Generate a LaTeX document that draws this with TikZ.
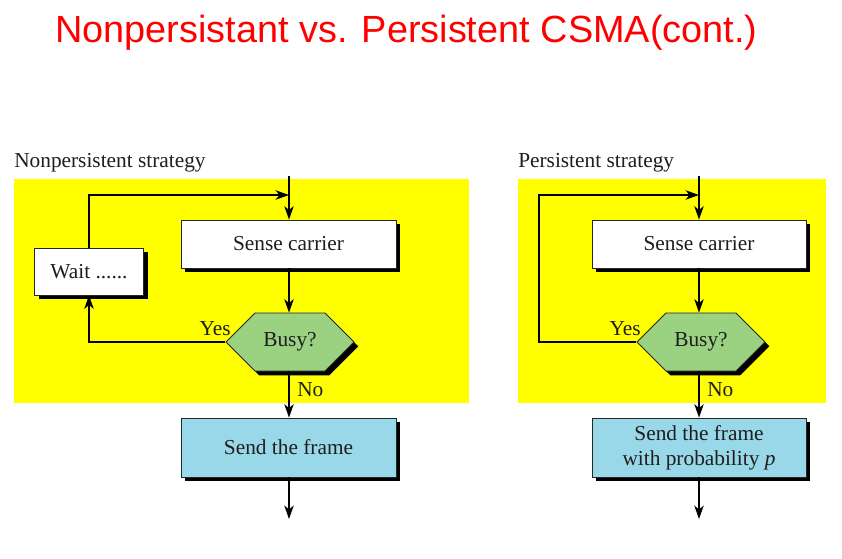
\documentclass[tikz,border=0pt]{standalone}
\usepackage{fontspec}
\setmainfont{Liberation Serif}
\newfontfamily\titlefont{Liberation Sans}
\usetikzlibrary{arrows.meta,shapes.symbols,shadows}
\definecolor{panelyellow}{RGB}{255,255,0}
\definecolor{busygreen}{RGB}{155,210,130}
\definecolor{sendblue}{RGB}{153,216,232}
\definecolor{inkc}{RGB}{30,30,30}
\begin{document}
\begin{tikzpicture}[x=0.75pt,y=-0.75pt,
  txt/.style={font=\fontsize{16}{18.5}\selectfont, text=inkc},
  shad/.style={general shadow={fill=black, shadow xshift=3.2pt, shadow yshift=-3.2pt}},
  box/.style={draw=black!85, line width=0.6pt, txt, inner sep=0pt, shad},
  whitebox/.style={box, fill=white},
  sendbox/.style={box, fill=sendblue, align=center},
  busy/.style={shape=signal, signal to=west and east, signal pointer angle=90,
    draw=black!85, line width=0.6pt, fill=busygreen, txt,
    minimum width=96pt, minimum height=43.5pt, inner sep=0pt, shad},
  arr/.style={line width=1.5pt, -{Stealth[length=10pt,width=7pt,inset=2.8pt]}},
  lbl/.style={txt, inner sep=0pt, anchor=base west}
]
\useasboundingbox (0,0) rectangle (842,558);
\fill[white] (0,0) rectangle (842,558);

% title
\node[anchor=base west, inner sep=0pt, text=red,
      font=\titlefont\fontsize{28.4}{34}\selectfont] (title) at (55,42)
      {Nonpersistant vs. Persistent CSMA(cont.)};

% panel captions
\node[lbl] (capL) at (14,167) {Nonpersistent strategy};
\node[lbl] (capR) at (518,167) {Persistent strategy};

% yellow panels
\fill[panelyellow] (14,179) rectangle (469,403);
\fill[panelyellow] (518,179) rectangle (826,403);

% ---------- left: nonpersistent ----------
\node[whitebox, minimum width=161.25pt, minimum height=36pt] (senseL) at (288.5,244) {Sense carrier};
\node[whitebox, minimum width=81.75pt, minimum height=35.25pt] (wait) at (89,271.5) {Wait ......};
\node[busy] (busyL) at (290,342) {Busy?};
\node[sendbox, minimum width=161.25pt, minimum height=44.25pt] (sendL) at (288.5,447.5) {Send the frame};

\coordinate (inL) at (289,176);
\coordinate (joinL) at (289,195);
\coordinate (outL) at (289,519);

\draw[arr] (inL) -- (inL |- senseL.north);
\draw[arr] (wait.north) |- (joinL);
\draw[arr] (senseL.south -| inL) -- (inL |- busyL.north);
\draw[arr] (busyL.west) -| (wait.south);
\draw[arr] (inL |- busyL.south) -- (inL |- sendL.north);
\draw[arr] (inL |- sendL.south) -- (outL);

\node[txt, inner sep=0pt, anchor=base east] (yesL) at (231,335) {Yes};
\node[lbl] (noL) at (297,396) {No};

% ---------- right: persistent ----------
\node[whitebox, minimum width=160.5pt, minimum height=36pt] (senseR) at (699,244) {Sense carrier};
\node[busy] (busyR) at (701,342) {Busy?};
\node[sendbox, minimum width=160.5pt, minimum height=44.25pt] (sendR) at (699,447.5)
  {Send the frame\\with probability \textit{p}};

\coordinate (inR) at (699,176);
\coordinate (joinR) at (699,195);
\coordinate (loopR) at (539,195);
\coordinate (outR) at (699,519);

\draw[arr] (inR) -- (inR |- senseR.north);
\draw[arr] (busyR.west) -| (loopR) -- (joinR);
\draw[arr] (inR |- senseR.south) -- (inR |- busyR.north);
\draw[arr] (inR |- busyR.south) -- (inR |- sendR.north);
\draw[arr] (inR |- sendR.south) -- (outR);

\node[txt, inner sep=0pt, anchor=base east] (yesR) at (641,335) {Yes};
\node[lbl] (noR) at (707,396) {No};
\end{tikzpicture}
\end{document}
